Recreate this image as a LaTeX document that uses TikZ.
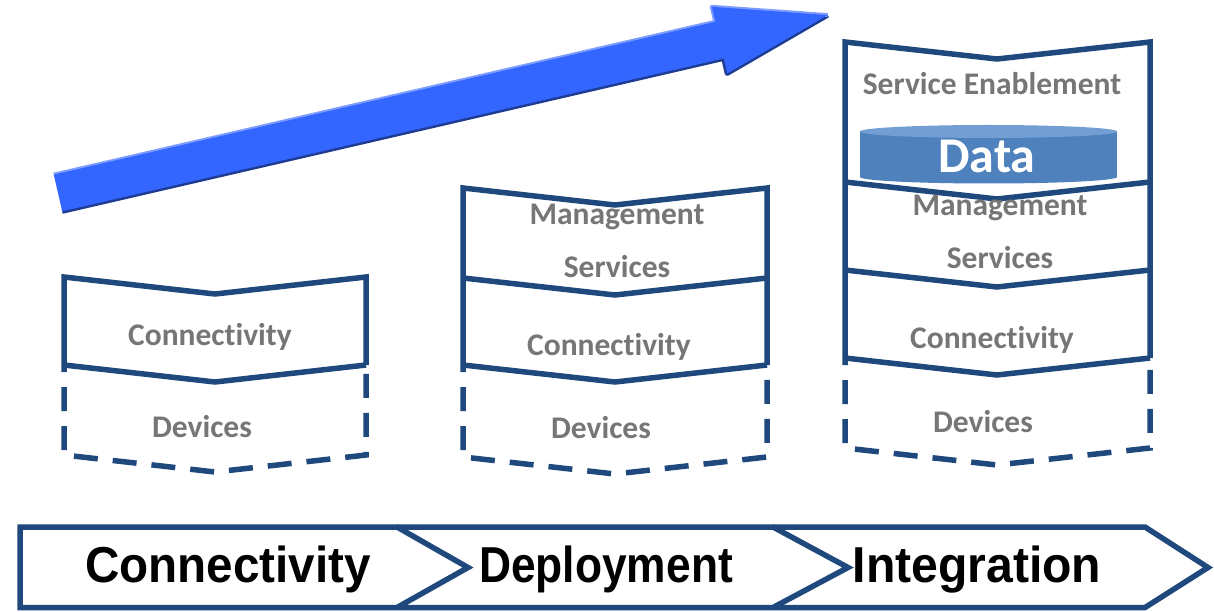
\documentclass[tikz,border=0pt]{standalone}
\usepackage{fontspec}
\setmainfont{Carlito}[Ligatures=NoCommon]
\newfontfamily\stagefont[FakeStretch=0.93]{Liberation Sans}
\definecolor{layerblue}{HTML}{1F497D}
\definecolor{labelgray}{HTML}{767676}
\definecolor{arrowblue}{HTML}{3366FF}
\definecolor{arrowlight}{HTML}{7C9CFF}
\definecolor{arrowdark}{HTML}{1F3C94}
\definecolor{databody}{HTML}{4F81BD}
\definecolor{datatop}{HTML}{729ED3}
\tikzset{
  layerline/.style={draw=layerblue, line width=5.5pt},
  devline/.style={layerline, dash pattern=on 24pt off 15pt, dash phase=17pt},
  layertext/.style={anchor=base, inner sep=0pt, text=labelgray, font=\bfseries\fontsize{31.5}{36}\selectfont},
  stagetext/.style={anchor=base, inner sep=0pt, transform shape, font=\stagefont\bfseries\fontsize{50.5}{56}\selectfont},
}
\begin{document}
\begin{tikzpicture}[x=1pt,y=-1pt]
   \useasboundingbox (0,0) rectangle (1214,612);

   % growth arrow
   \draw[arrowdark, line width=5pt, line join=round] (62.2,211.3) -- (723.7,58.4) -- (727.2,73.4) -- (827.7,15.1);
   \draw[arrowlight, line width=4pt, line join=round] (53.8,174.7) -- (715.3,21.8) -- (711.8,6.8) -- (827.7,15.1);
   \fill[arrowblue] (53.8,174.7) -- (715.3,21.8) -- (711.8,6.8) -- (827.7,15.1)
        -- (727.2,73.4) -- (723.7,58.4) -- (62.2,211.3) -- cycle;

   % first stage
   \draw[layerline] (64,365) -- (64,277) -- (215,294) -- (366,277) -- (366,365);
   \draw[layerline] (64,365) -- (215,382) -- (366,365);
   \draw[devline] (64,365) -- (64,455) -- (215,472) -- (366,455) -- (366,365);
   \node[layertext] (conn1) at (210,345) {Connectivity};
   \node[layertext] (dev1) at (202,437) {Devices};

   % second stage
   \draw[layerline] (463,365) -- (463,188) -- (615,205) -- (767,188) -- (767,365);
   \foreach \y in {278,365} {
     \draw[layerline] (463,\y) -- (615,\y+17) -- (767,\y);
   }
   \draw[devline] (463,365) -- (463,457) -- (615,474) -- (767,457) -- (767,365);
   \node[layertext] (mgmt2) at (617,225) {Management};
   \node[layertext] (serv2) at (617,277) {Services};
   \node[layertext] (conn2) at (609,355) {Connectivity};
   \node[layertext] (dev2) at (601,438) {Devices};

   % third stage
   \fill[databody] (860,131.5) rectangle (1117,177);
   \fill[databody] (988.5,177) ellipse[x radius=128.5pt, y radius=6.5pt];
   \fill[datatop] (988.5,131.5) ellipse[x radius=128.5pt, y radius=6.5pt];
   \draw[layerline] (845,358) -- (845,42) -- (997,59) -- (1150,42) -- (1150,358);
   \foreach \y in {182,270,358} {
     \draw[layerline] (845,\y) -- (997,\y+17) -- (1150,\y);
   }
   \draw[devline] (845,358) -- (845,448) -- (997,465) -- (1150,448) -- (1150,358);
   \node[layertext] (serv3a) at (992,95) {Service Enablement};
   \node[layertext, text=white, font=\bfseries\fontsize{50}{54}\selectfont] (data3) at (987,173) {Data};
   \node[layertext] (mgmt3) at (1000,215) {Management};
   \node[layertext] (serv3) at (1000,268) {Services};
   \node[layertext] (conn3) at (992,348) {Connectivity};
   \node[layertext] (dev3) at (983,432) {Devices};

   % stages bar
   \draw[layerline] (20,527) -- (397,527) -- (468,567.5) -- (397,607.5) -- (20,607.5) -- cycle;
   \draw[layerline] (397,527) -- (773,527) -- (848,567.5) -- (773,607.5) -- (397,607.5);
   \draw[layerline] (773,527) -- (1145,527) -- (1208,567.5) -- (1145,607.5) -- (773,607.5);
   \node[stagetext, xscale=1.014] (stage1) at (228,582) {Connectivity};
   \node[stagetext, xscale=0.944] (stage2) at (606,582) {Deployment};
   \node[stagetext, xscale=1.025] (stage3) at (977,582) {Integration};
\end{tikzpicture}
\end{document}
